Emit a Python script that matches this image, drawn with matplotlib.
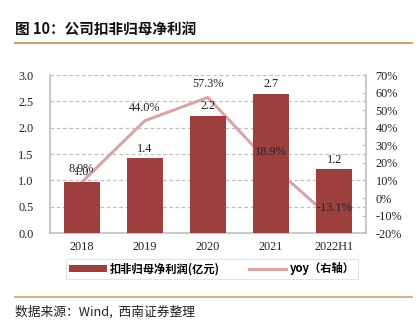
import matplotlib
matplotlib.use("Agg")
import matplotlib.pyplot as plt
from matplotlib.patches import Patch
from matplotlib.lines import Line2D

categories = ["2018", "2019", "2020", "2021", "2022H1"]
profit = [0.98, 1.42, 2.23, 2.65, 1.21]
profit_labels = ["1.0", "1.4", "2.2", "2.7", "1.2"]
yoy = [8.9, 44.0, 57.3, 18.9, -13.1]
left_ticks = [0.0, 0.5, 1.0, 1.5, 2.0, 2.5, 3.0]
right_ticks = [-20, -10, 0, 10, 20, 30, 40, 50, 60, 70]

CJK = ["Noto Sans CJK SC", "DejaVu Sans"]
SERIF = ["Liberation Serif", "DejaVu Serif"]
bar_color = "#9E3F3F"
line_color = "#D8A4A4"
grid_color = "#C0C0C0"
axis_color = "#BFBFBF"
FS = 8.8

fig = plt.figure(figsize=(4.2, 3.34), dpi=100)
ax = fig.add_axes([0.119, 0.302, 0.752, 0.473])
ax2 = ax.twinx()

x = list(range(len(categories)))

ax2.set_zorder(1)
ax.set_zorder(2)
ax.patch.set_visible(False)

ax2.plot(x, yoy, color=line_color, lw=2.2, zorder=2)
ax.bar(x, profit, width=0.57, color=bar_color, zorder=3)

ax.set_xlim(-0.5, len(categories) - 0.5)
ax.set_ylim(0, 3.0)
ax2.set_ylim(-20, 70)
ax.set_yticks(left_ticks)
ax.set_yticklabels([f"{v:.1f}" for v in left_ticks], fontfamily=SERIF, fontsize=FS)
ax2.set_yticks(right_ticks)
ax2.set_yticklabels([f"{v}%" for v in right_ticks], fontfamily=SERIF, fontsize=FS)
ax.set_xticks(x)
ax.set_xticklabels(categories, fontfamily=SERIF, fontsize=FS)

for v in left_ticks[1:]:
    ax2.axhline(-20 + v * 30, color=grid_color, lw=0.9, ls=(0, (3, 2)), zorder=0)

for a in (ax, ax2):
    for s in a.spines.values():
        s.set_visible(False)
ax.spines["left"].set_visible(True)
ax.spines["left"].set_color(axis_color)
ax.spines["left"].set_linewidth(1.2)
ax.spines["bottom"].set_visible(True)
ax.spines["bottom"].set_color(axis_color)
ax.spines["bottom"].set_linewidth(1.2)
ax2.spines["right"].set_visible(True)
ax2.spines["right"].set_color(axis_color)
ax2.spines["right"].set_linewidth(1.2)

ax.tick_params(axis="y", length=0, pad=12, colors="#222222")
ax.tick_params(axis="x", length=0, pad=6, colors="#222222")
ax2.tick_params(axis="y", direction="in", length=3, color=axis_color, pad=7, labelcolor="#222222")

for xi, v, lab in zip(x, profit, profit_labels):
    ax.annotate(lab, (xi, v), xytext=(0, 2.5), textcoords="offset points",
                ha="center", va="bottom", fontfamily=SERIF, fontsize=FS, color="#222222", zorder=5)
for xi, v in zip(x, yoy):
    ax.annotate(f"{v:.1f}%", (xi, v), xycoords=ax2.transData, xytext=(0, 9.5),
                textcoords="offset points", ha="center", va="center",
                fontfamily=SERIF, fontsize=FS, color="#222222", zorder=6)

handles = [Patch(facecolor=bar_color, edgecolor="none"),
           Line2D([0], [0], color=line_color, lw=2.2)]
labels = ["扣非归母净利润(亿元)", "yoy（右轴）"]
leg = fig.legend(handles, labels, loc="center", bbox_to_anchor=(0.505, 0.195), ncol=2,
                 prop={"family": CJK, "size": 8.1, "weight": "bold"}, frameon=True,
                 fancybox=False, edgecolor="#DDDDDD", handlelength=3.3, handleheight=0.5,
                 columnspacing=2.6, borderpad=0.3, handletextpad=0.3, borderaxespad=0)
leg.get_frame().set_linewidth(0.8)

fig.text(0.036, 0.91, "图 10：公司扣非归母净利润", fontfamily=CJK, fontsize=10.5,
         fontweight="bold", ha="left", va="center", color="#111111")
fig.add_artist(Line2D([0.036, 0.982], [0.871, 0.871], color="#C9A46E", lw=1.5,
                      transform=fig.transFigure))
fig.add_artist(Line2D([0.036, 0.982], [0.112, 0.112], color="#D9A066", lw=1.2,
                      transform=fig.transFigure))
fig.text(0.036, 0.066, "数据来源：Wind,  西南证券整理", fontfamily=CJK, fontsize=9.2,
         style="italic", ha="left", va="center", color="#222222")

fig.savefig("out.png", dpi=100)
